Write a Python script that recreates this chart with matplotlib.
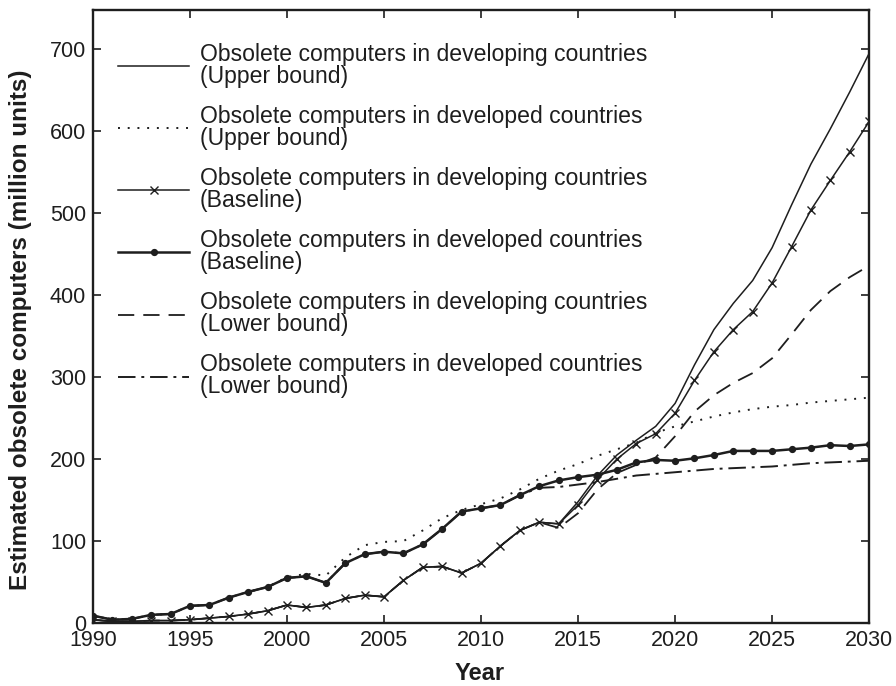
import matplotlib.pyplot as plt
import numpy as np

plt.rcParams['font.family'] = ['Liberation Sans', 'DejaVu Sans']

# 年份与各情景数据 (million units)
years = np.arange(1990, 2031)

dvg_upper = [4, 2, 2, 3, 3, 4, 6, 8, 11, 15, 22, 19, 22, 30, 34, 32, 52, 68, 69, 61,
             73, 94, 113, 123, 121, 148, 180, 205, 223, 240, 268, 315, 358, 390, 418,
             458, 510, 560, 603, 648, 695]
dev_upper = [9, 4, 5, 10, 11, 21, 22, 31, 38, 44, 56, 60, 58, 80, 95, 99, 100, 113, 128, 138,
             145, 152, 163, 176, 186, 194, 204, 212, 220, 232, 240, 246, 252, 257, 261,
             264, 266, 269, 271, 273, 275]
dvg_base = [4, 2, 2, 3, 3, 4, 6, 8, 11, 15, 22, 19, 22, 30, 34, 32, 52, 68, 69, 61,
            73, 94, 113, 123, 121, 144, 175, 200, 219, 231, 256, 296, 331, 358, 380,
            415, 459, 504, 540, 575, 612]
dev_base = [9, 4, 5, 10, 11, 21, 22, 31, 38, 44, 55, 57, 49, 73, 84, 87, 85, 96, 115, 136,
            140, 144, 156, 167, 174, 178, 181, 187, 196, 199, 198, 201, 205, 210, 210,
            210, 212, 214, 217, 216, 218]
dvg_lower = [4, 2, 2, 3, 3, 4, 6, 8, 11, 15, 22, 19, 22, 30, 34, 32, 52, 68, 69, 61,
             73, 94, 113, 123, 116, 134, 163, 183, 193, 202, 228, 258, 278, 293, 305,
             323, 352, 382, 405, 422, 436]
dev_lower = [9, 4, 5, 10, 11, 21, 22, 31, 38, 44, 55, 57, 49, 73, 84, 87, 85, 96, 115, 136,
             140, 144, 156, 165, 166, 169, 172, 176, 180, 182, 184, 186, 188, 189, 190,
             191, 193, 195, 196, 197, 198]

labels = ['Obsolete computers in developing countries\n(Upper bound)',
          'Obsolete computers in developed countries\n(Upper bound)',
          'Obsolete computers in developing countries\n(Baseline)',
          'Obsolete computers in developed countries\n(Baseline)',
          'Obsolete computers in developing countries\n(Lower bound)',
          'Obsolete computers in developed countries\n(Lower bound)']

c = '#1e1e1e'
fig = plt.figure(figsize=(8.96, 6.86), dpi=100)
ax = fig.add_axes([0.1038, 0.0918, 0.8662, 0.8936])

ax.plot(years, dvg_upper, '-', color=c, lw=1.1, label=labels[0])
ax.plot(years, dev_upper, color=c, lw=1.4, linestyle=(0, (1, 4)), label=labels[1])
ax.plot(years, dvg_base, '-', color=c, lw=1.1, marker='x', ms=6, mew=1.0, label=labels[2])
ax.plot(years, dev_base, '-', color=c, lw=1.8, marker='o', ms=4.2, label=labels[3])
ax.plot(years, dvg_lower, color=c, lw=1.3, linestyle=(0, (9, 5)), label=labels[4])
ax.plot(years, dev_lower, color=c, lw=1.4, linestyle=(0, (9, 3, 1.5, 3)), label=labels[5])

ax.set_xlim(1990, 2030)
ax.set_ylim(0, 748)
ax.set_xticks(np.arange(1990, 2031, 5))
ax.set_yticks(np.arange(0, 701, 100))
ax.tick_params(direction='in', top=True, right=True, length=6, width=1.2,
               labelsize=15.5, colors=c, pad=5)
for s in ax.spines.values():
    s.set_linewidth(1.7)
    s.set_color(c)

ax.set_xlabel('Year', fontsize=17, fontweight='bold', color=c)
ax.xaxis.set_label_coords(0.498, -0.064)
ax.set_ylabel('Estimated obsolete computers (million units)', fontsize=17.5,
              fontweight='bold', color=c)
ax.yaxis.set_label_coords(-0.079, 0.478)

leg = ax.legend(loc='upper left', bbox_to_anchor=(0.032, 0.947), frameon=False,
                fontsize=16.6, handlelength=3.1, handletextpad=0.45,
                labelspacing=0.73, borderpad=0, borderaxespad=0)
for t in leg.get_texts():
    t.set_linespacing(0.96)
    t.set_color(c)

plt.savefig('out.png', dpi=100)
